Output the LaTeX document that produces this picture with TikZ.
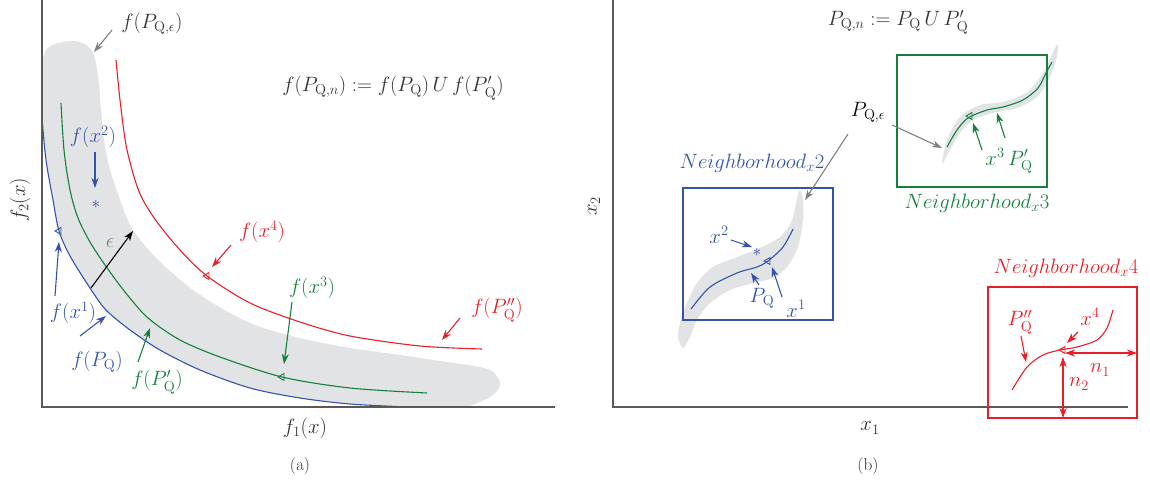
\documentclass[tikz,border=0pt]{standalone}
\usepackage{amsmath}
\usetikzlibrary{arrows.meta,shapes.geometric}
\definecolor{cblue}{RGB}{52,84,170}
\definecolor{cgreen}{RGB}{20,128,60}
\definecolor{cred}{RGB}{232,30,40}
\definecolor{bandg}{RGB}{226,227,229}
\definecolor{axg}{RGB}{90,90,90}
\definecolor{txg}{RGB}{50,50,50}
\definecolor{arg}{RGB}{128,128,128}
\begin{document}
\begin{tikzpicture}[x=1pt,y=-1pt,
 lbl/.style={font=\fontsize{20}{24}\selectfont, inner sep=0pt},
 ar/.style={-{Stealth[length=10pt,width=7pt,inset=3pt]}, line width=1.1pt},
 dar/.style={{Stealth[length=10pt,width=7pt,inset=3pt]}-{Stealth[length=10pt,width=7pt,inset=3pt]}, line width=1.1pt},
 crv/.style={line width=1.1pt},
 tri/.style={draw, regular polygon, regular polygon sides=3, minimum size=8pt, inner sep=0pt, line width=0.9pt, rotate=90},
 nbox/.style={draw, line width=1.1pt},
 axis/.style={draw=axg, line width=1.4pt},
 star/.style={font=\fontsize{18}{18}\selectfont, inner sep=0pt},
 captxt/.style={font=\fontsize{17}{20}\selectfont, inner sep=0pt, text=txg},
]
\useasboundingbox (0,0) rectangle (1150,481);

% ---------------- left panel ----------------
% band
\fill[bandg] (42,62) -- plot[smooth] coordinates {(42,62) (46,50) (55,44) (70,41) (83,43) (92,51) (96,63) (99,85) (101,110) (104,140) (110,170) (122,205) (133,230) (160,262) (200,295) (250,323) (300,338) (350,348) (400,355) (447,362) (480,367) (493,372) (500,382) (498,390) (490,397) (480,402) (467,407)}
  -- (408,407) -- plot[smooth] coordinates {(408,407) (350,404) (300,398) (250,388) (200,370) (160,350) (130,330) (106,310) (90,288) (70,256) (59,231) (53,200) (46,160) (42,118)} -- cycle;
% curves
\draw[crv, cblue] plot[smooth] coordinates {(42,118) (46,160) (53,200) (59,231) (70,256) (90,288) (106,310) (130,330) (160,350) (200,370) (250,388) (300,398) (350,404) (408,407)};
\draw[crv, cgreen] plot[smooth] coordinates {(61,103) (64,150) (70,190) (78,218) (90,242) (105,265) (125,292) (148,318) (180,340) (220,357) (282,377) (350,388) (427,393)};
\draw[crv, cred] plot[smooth] coordinates {(116,60) (120,100) (126,145) (135,180) (143,200) (157,222) (180,250) (207,276) (250,303) (300,322) (350,336) (420,346) (482,349)};
% axes
\draw[axis] (42,0) -- (42,407) -- (555,407);
\node[lbl, text=txg, rotate=90] (f2x) at (20,200) {$f_2(x)$};
\node[lbl, text=txg] (f1x) at (305,428) {$f_1(x)$};
\node[captxt] (capa) at (300,466) {$(\mathrm{a})$};
% labels and arrows
\node[lbl, text=txg] (fpqe) at (152,24) {$f(P_{\mathrm{Q},\epsilon})$};
\coordinate (fpqeA) at (112,30); \coordinate (fpqeB) at (94,52);
\draw[ar, arg] (fpqeA) -- (fpqeB);
\node[lbl, text=txg] (formL) at (393,88) {$f(P_{\mathrm{Q},n}) := f(P_{\mathrm{Q}})\,U\,f(P'_{\mathrm{Q}})$};
\node[lbl, text=cblue] (fx2) at (93,137) {$f(x^2)$};
\coordinate (fx2A) at (95,152); \coordinate (fx2B) at (95,188);
\draw[ar, cblue] (fx2A) -- (fx2B);
\node[star, text=cblue] (st1) at (96,204) {$\ast$};
\node[lbl, text=arg] (eps) at (110,243) {$\epsilon$};
\coordinate (epsA) at (91,288); \coordinate (epsB) at (133,231);
\draw[ar, black] (epsA) -- (epsB);
\node[tri, cblue] (t1) at (59,231) {};
\node[lbl, text=cblue] (fx1) at (73,313) {$f(x^1)$};
\coordinate (fx1A) at (55,296); \coordinate (fx1B) at (59,242);
\draw[ar, cblue] (fx1A) -- (fx1B);
\node[lbl, text=cblue] (fpq) at (97,362) {$f(P_{\mathrm{Q}})$};
\coordinate (fpqA) at (80,336); \coordinate (fpqB) at (106,316);
\draw[ar, cblue] (fpqA) -- (fpqB);
\node[lbl, text=cgreen] (fpqp) at (157,382) {$f(P'_{\mathrm{Q}})$};
\coordinate (fpqpA) at (138,362); \coordinate (fpqpB) at (150,328);
\draw[ar, cgreen] (fpqpA) -- (fpqpB);
\node[lbl, text=cred] (fx4) at (262,232) {$f(x^4)$};
\coordinate (fx4A) at (231,245); \coordinate (fx4B) at (212,267);
\draw[ar, cred] (fx4A) -- (fx4B);
\node[tri, cred] (t4) at (207,276) {};
\node[lbl, text=cgreen] (fx3) at (312,288) {$f(x^3)$};
\coordinate (fx3A) at (292,302); \coordinate (fx3B) at (284,364);
\draw[ar, cgreen] (fx3A) -- (fx3B);
\node[tri, cgreen] (t3) at (282,377) {};
\node[lbl, text=cred] (fpqpp) at (497,310) {$f(P''_{\mathrm{Q}})$};
\coordinate (fpqppA) at (460,318); \coordinate (fpqppB) at (442,340);
\draw[ar, cred] (fpqppA) -- (fpqppB);

% ---------------- right panel ----------------
\fill[bandg] plot[smooth cycle] coordinates {(799,191) (792,220) (780,237) (760,248) (737,257) (713,267) (697,283) (687,303) (680,323) (678,337) (683,348) (690,337) (697,320) (710,303) (730,290) (753,283) (773,278) (787,267) (798,247) (803,220) (803,200)};
\fill[bandg] plot[smooth cycle] coordinates {(942,164) (947,140) (960,117) (980,105) (1003,102) (1027,92) (1043,73) (1053,52) (1058,44) (1057,57) (1050,77) (1037,97) (1017,108) (993,113) (973,120) (960,133) (950,150)};
\draw[axis] (613,0) -- (613,407) -- (1128,407);
\node[lbl, text=txg, rotate=90] (x2) at (594,206) {$x_2$};
\node[lbl, text=txg] (x1) at (870,428) {$x_1$};
\node[captxt] (capb) at (868,466) {$(\mathrm{b})$};
\node[lbl, text=txg] (formR) at (898,22) {$P_{\mathrm{Q},n} := P_{\mathrm{Q}}\,U\,P'_{\mathrm{Q}}$};
% blue neighbourhood
\draw[nbox, cblue] (683,188) rectangle (833,320);
\node[lbl, text=cblue] (nb2) at (752,163) {$Neighborhood_x2$};
\draw[crv, cblue] plot[smooth] coordinates {(691,309) (710,287) (737,273) (757,267) (768,261) (783,247) (793,229)};
\node[star, text=cblue] (st2) at (757,252) {$\ast$};
\node[tri, cblue] (t1r) at (768,261) {};
\node[lbl, text=cblue] (x2l) at (719,235) {$x^2$};
\coordinate (x2A) at (731,240); \coordinate (x2B) at (752,247);
\draw[ar, cblue] (x2A) -- (x2B);
\node[lbl, text=cblue] (pql) at (762,298) {$P_{\mathrm{Q}}$};
\coordinate (pqA) at (759,285); \coordinate (pqB) at (751,273);
\draw[ar, cblue] (pqA) -- (pqB);
\node[lbl, text=cblue] (x1l) at (796,309) {$x^1$};
\coordinate (x1A) at (782,297); \coordinate (x1B) at (772,267);
\draw[ar, cblue] (x1A) -- (x1B);
% green neighbourhood
\draw[nbox, cgreen] (897,55) rectangle (1047,187);
\node[lbl, text=cgreen] (nb3) at (977,203) {$Neighborhood_x3$};
\draw[crv, cgreen] plot[smooth] coordinates {(947,147) (957,130) (968,118) (987,110) (1003,107) (1023,100) (1038,88) (1046,73) (1052,62)};
\node[tri, cgreen] (t3r) at (970,116) {};
\node[lbl, text=cgreen] (x3l) at (1009,161) {$x^3\,P'_{\mathrm{Q}}$};
\coordinate (x3A) at (982,150); \coordinate (x3B) at (973,123);
\draw[ar, cgreen] (x3A) -- (x3B);
\coordinate (ppA) at (1005,138); \coordinate (ppB) at (997,113);
\draw[ar, cgreen] (ppA) -- (ppB);
% P_Q,eps
\node[lbl, text=black] (pqe) at (868,112) {$P_{\mathrm{Q},\epsilon}$};
\coordinate (pqeA) at (892,125); \coordinate (pqeB) at (942,148);
\draw[ar, arg] (pqeA) -- (pqeB);
\coordinate (pqeC) at (848,134); \coordinate (pqeD) at (805,200);
\draw[ar, arg] (pqeC) -- (pqeD);
% red neighbourhood
\draw[nbox, cred] (988,287) rectangle (1137,418);
\node[lbl, text=cred] (nb4) at (1066,268) {$Neighborhood_x4$};
\draw[crv, cred] plot[smooth] coordinates {(1012,390) (1027,367) (1043,355) (1060,350) (1077,347) (1097,340) (1107,328) (1113,310)};
\node[tri, cred] (t4r) at (1063,350) {};
\coordinate (n1A) at (1065,353); \coordinate (n1B) at (1137,353);
\draw[dar, cred] (n1A) -- (n1B);
\coordinate (n2A) at (1063,357); \coordinate (n2B) at (1063,418);
\draw[dar, cred] (n2A) -- (n2B);
\node[lbl, text=cred] (n1l) at (1100,370) {$n_1$};
\node[lbl, text=cred] (n2l) at (1079,384) {$n_2$};
\node[lbl, text=cred] (ppq) at (1020,322) {$P''_{\mathrm{Q}}$};
\coordinate (ppqA) at (1021,336); \coordinate (ppqB) at (1026,362);
\draw[ar, cred] (ppqA) -- (ppqB);
\node[lbl, text=cred] (x4l) at (1090,317) {$x^4$};
\coordinate (x4A) at (1078,332); \coordinate (x4B) at (1067,343);
\draw[ar, cred] (x4A) -- (x4B);
\end{tikzpicture}
\end{document}
